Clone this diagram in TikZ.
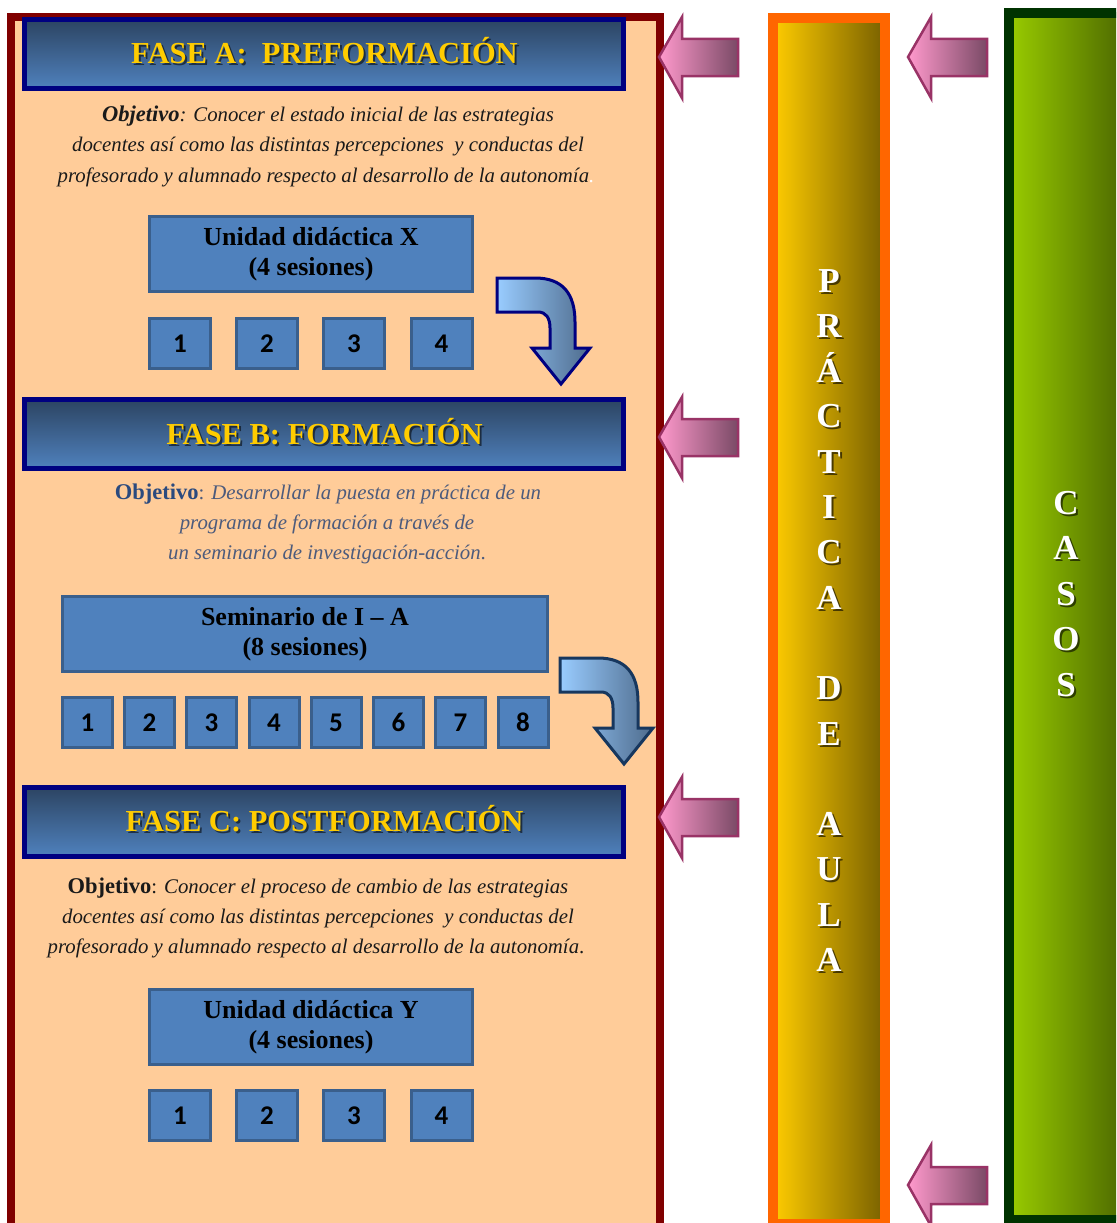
\documentclass[tikz,border=0pt]{standalone}
\usepackage{fontspec}
\setmainfont{Liberation Serif}
\newfontfamily\numfont{Carlito}

\definecolor{peach}{HTML}{FFCC99}
\definecolor{panelred}{HTML}{800000}
\definecolor{navyb}{HTML}{000080}
\definecolor{navyc}{HTML}{17375E}
\definecolor{hdtop}{HTML}{2C4462}
\definecolor{hdbot}{HTML}{4F81BD}
\definecolor{gold}{HTML}{FFCC00}
\definecolor{boxblue}{HTML}{4F81BD}
\definecolor{boxedge}{HTML}{3A5F8C}
\definecolor{bendlight}{HTML}{99CCFF}
\definecolor{benddark}{HTML}{4E6B8C}
\definecolor{pinklight}{HTML}{FF99CC}
\definecolor{pinkdark}{HTML}{7A4A66}
\definecolor{pinkedge}{HTML}{993366}
\definecolor{barorange}{HTML}{FF6600}
\definecolor{baryellow}{HTML}{FFCC00}
\definecolor{barolive}{HTML}{786000}
\definecolor{bargreen}{HTML}{003300}
\definecolor{limeg}{HTML}{99CC00}
\definecolor{darkg}{HTML}{466000}
\definecolor{objblue}{HTML}{2B4A7E}
\definecolor{objgrey}{HTML}{4D5B7C}
\definecolor{ink}{HTML}{1A1A1A}

\newcommand{\objword}{\fontsize{22.5}{26}\selectfont}

\tikzset{
  phasebox/.style={draw=navyb, line width=5pt, top color=hdtop, bottom color=hdbot,
    minimum width=599pt, minimum height=69pt, inner sep=0pt},
  phasetitle/.style={text=gold, anchor=base, inner sep=0pt,
    font=\bfseries\fontsize{30.5}{34}\selectfont},
  phaseshade/.style={phasetitle, text=black, opacity=.55},
  unitbox/.style={draw=boxedge, line width=3pt, fill=boxblue, minimum width=323pt,
    minimum height=75pt, inner sep=0pt, align=center, text=black,
    font=\bfseries\fontsize{26}{30.5}\selectfont},
  numbox/.style={draw=boxedge, line width=3pt, fill=boxblue, minimum width=61pt,
    minimum height=50pt, inner sep=0pt, text=black,
    font=\numfont\bfseries\fontsize{27}{30}\selectfont},
  objline/.style={anchor=base, inner sep=0pt, text=ink,
    font=\itshape\fontsize{20.8}{24}\selectfont},
  barletter/.style={anchor=base, inner sep=0pt, text=white,
    font=\bfseries\fontsize{35}{40}\selectfont},
  barshade/.style={barletter, text=black, opacity=.6},
  pinkarrow/.pic={
    \draw[draw=pinkedge, line width=2.5pt, left color=pinklight, right color=pinkdark]
      (0,0) -- (23,-40) -- (23,-18) -- (79,-18) -- (79,19) -- (23,19) -- (23,41) -- cycle;},
  bendarrow/.pic={
    \draw[draw=#1, line width=3pt, left color=bendlight, right color=benddark]
      (0,0) -- (38,0) .. controls (66,0) and (78,16) .. (78,44) -- (78,70) -- (93,70)
      -- (64,106) -- (35,70) -- (53,70) -- (53,50)
      .. controls (53,40) and (49,34) .. (41,34) -- (0,34) -- cycle;}
}

\begin{document}
\begin{tikzpicture}[x=1pt, y=-1pt]
\useasboundingbox (0,0) rectangle (1116,1223);
\clip (0,0) rectangle (1116,1223);

% column of the three phases
\draw[draw=panelred, line width=8pt, fill=peach] (11,17) rectangle (660,1240);

% side bars
\draw[draw=barorange, line width=10pt, left color=baryellow, right color=barolive]
  (773,18) rectangle (885,1224);
\draw[draw=bargreen, line width=10pt, left color=limeg, right color=darkg]
  (1009,13) rectangle (1135,1220);

% ---------- phase A ----------
\node[phasebox] (ha) at (324,54) {};
\node[phaseshade] (tas) at (326.5,65.5) {FASE A:\ \ PREFORMACIÓN};
\node[phasetitle] (ta) at (324.5,63.5) {FASE A:\ \ PREFORMACIÓN};

\node[objline] (oa1) at (328,121) {{\objword\bfseries Objetivo}: Conocer el estado inicial de las estrategias};
\node[objline] (oa2) at (328,151) {docentes así como las distintas percepciones\ \ y conductas del};
\node[objline] (oa3) at (326,182) {profesorado y alumnado respecto al desarrollo de la autonomía\textcolor{white}{.}};

\node[unitbox] (ux) at (311,254) {Unidad didáctica X\\(4 sesiones)};
\foreach \n/\xx in {1/180,2/267,3/354,4/441.5}
  \node[numbox] (xa\n) at (\xx,343.5) {\n};

\pic (ba) at (497,278) {bendarrow=navyb};

% ---------- phase B ----------
\node[phasebox] (hb) at (324,434) {};
\node[phaseshade] (tbs) at (326.5,446) {FASE B: FORMACIÓN};
\node[phasetitle] (tb) at (324.5,444) {FASE B: FORMACIÓN};

\node[objline, text=objgrey] (ob1) at (328,499)
  {\textcolor{objblue}{\objword\upshape\bfseries Objetivo}\upshape: \itshape Desarrollar la puesta en práctica de un};
\node[objline, text=objgrey] (ob2) at (327,529) {programa de formación a través de};
\node[objline, text=objgrey] (ob3) at (327,559) {un seminario de investigación-acción\upshape.};

\node[unitbox, minimum width=485pt] (us) at (305,634) {Seminario de I -- A\\(8 sesiones)};
\foreach \n/\xx in {1/87.5,2/149.5,3/211.5,4/274,5/336,6/398.5,7/460.5,8/523}
  \node[numbox, minimum width=50pt] (xb\n) at (\xx,722.5) {\n};

\pic (bb) at (560,658) {bendarrow=navyc};

% ---------- phase C ----------
\node[phasebox] (hc) at (324,821.5) {};
\node[phaseshade] (tcs) at (326.5,833.5) {FASE C: POSTFORMACIÓN};
\node[phasetitle] (tc) at (324.5,831.5) {FASE C: POSTFORMACIÓN};

\node[objline] (oc1) at (318,893)
  {{\objword\upshape\bfseries Objetivo}\upshape: \itshape Conocer el proceso de cambio de las estrategias};
\node[objline] (oc2) at (318,923) {docentes así como las distintas percepciones\ \ y conductas del};
\node[objline] (oc3) at (316,953) {profesorado y alumnado respecto al desarrollo de la autonomía\upshape.};

\node[unitbox] (uy) at (311,1027) {Unidad didáctica Y\\(4 sesiones)};
\foreach \n/\xx in {1/180,2/267,3/354,4/441.5}
  \node[numbox] (xc\n) at (\xx,1115.5) {\n};

% ---------- arrows feeding the column ----------
\pic (pa1) at (659,57) {pinkarrow};
\pic (pa2) at (659,437) {pinkarrow};
\pic (pa3) at (659,817) {pinkarrow};
\pic (pb1) at (908,57) {pinkarrow};
\pic (pb2) at (908,1185) {pinkarrow};

% ---------- vertical labels ----------
\foreach \l/\k in {P/0,R/1,Á/2,C/3,T/4,I/5,C/6,A/7,D/9,E/10,A/12,U/13,L/14,A/15}{
  \node[barshade] (pls\k) at (831,294+45.3*\k) {\l};
  \node[barletter] (pl\k) at (829,292+45.3*\k) {\l};
}
\foreach \l/\k in {C/0,A/1,S/2,O/3,S/4}{
  \node[barshade] (cls\k) at (1068,516+45.5*\k) {\l};
  \node[barletter] (cl\k) at (1066,514+45.5*\k) {\l};
}
\end{tikzpicture}
\end{document}
